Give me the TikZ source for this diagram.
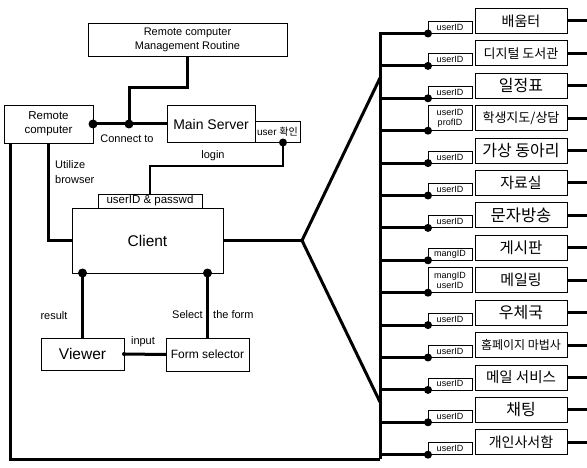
\documentclass[tikz,border=0pt]{standalone}
\usepackage{fontspec}
\setmainfont{Liberation Sans}
\newfontfamily\kr{Noto Sans CJK KR}
\usetikzlibrary{positioning,calc}
\newcommand{\krsize}[1]{\kr\fontsize{#1}{#1}\selectfont}
\newcommand{\ensize}[2]{\fontsize{#1}{#2}\selectfont}

\begin{document}
\begin{tikzpicture}[x=1pt, y=-1pt,
    box/.style={draw, line width=0.8pt, inner sep=0pt, outer sep=0pt, align=center},
    svc/.style={box, minimum width=92pt, minimum height=25pt},
    tag/.style={box, minimum width=44pt, minimum height=12pt, font=\ensize{9}{9.5}},
    wire/.style={line width=3pt},
    lbl/.style={inner sep=0pt, align=left, font=\ensize{11}{15}}
]
\useasboundingbox (0,0) rectangle (587,468);

% left side
\node[box, minimum width=199pt, minimum height=33pt, font=\ensize{11}{14}] (mgmt) at (187.5,39.5) {Remote computer\\Management Routine};
\node[box, minimum width=89pt, minimum height=38pt, font=\ensize{11.5}{14}] (remote) at (48.5,124) {Remote\\computer};
\node[box, minimum width=88pt, minimum height=37pt, font=\ensize{14}{16}] (server) at (211,124) {Main Server};
\node[box, anchor=south west, minimum width=45pt, minimum height=21pt, font=\ensize{10}{12}] (ucheck) at (server.south east) {user {\kr 확인}};
\node[box, minimum width=151pt, minimum height=65pt, font=\ensize{15.5}{18}] (client) at (147.5,240.5) {Client};
\node[box, anchor=south, minimum width=104pt, minimum height=14pt, font=\ensize{11.5}{12}] (uidpw) at ([xshift=2.5pt]client.north) {userID \& passwd};
\node[box, minimum width=83pt, minimum height=32pt, font=\ensize{15.5}{18}] (viewer) at (82.5,354) {Viewer};
\node[box, minimum width=83pt, minimum height=33pt, font=\ensize{12}{14}] (formsel) at (207.5,354.5) {Form selector};

\node[lbl] (lconnect) at (127,139) {Connect to};
\node[lbl] (llogin) at (213,156) {login};
\node[lbl, anchor=west] (lutil) at (55,172) {Utilize\\browser};
\node[lbl] (lresult) at (54,316) {result};
\node[lbl, anchor=east] (lselect) at (203,315) {Select};
\node[lbl, anchor=west] (lform) at (213,315) {the form};
\node[lbl] (linput) at (143,342) {input};

% services
\node[svc, font=\krsize{14}] (s1) at (521,21) {배움터};
\node[svc, font=\krsize{13}, below=7.4pt of s1] (s2) {디지털 도서관};
\node[svc, font=\krsize{16}, below=7.4pt of s2] (s3) {일정표};
\node[svc, font=\krsize{13}, below=7.4pt of s3] (s4) {학생지도/상담};
\node[svc, font=\krsize{16}, below=7.4pt of s4] (s5) {가상 동아리};
\node[svc, font=\krsize{15}, below=7.4pt of s5] (s6) {자료실};
\node[svc, font=\krsize{16.5}, below=7.4pt of s6] (s7) {문자방송};
\node[svc, font=\krsize{15.5}, below=7.4pt of s7] (s8) {게시판};
\node[svc, font=\krsize{15}, below=7.4pt of s8] (s9) {메일링};
\node[svc, font=\krsize{16}, below=7.4pt of s9] (s10) {우체국};
\node[svc, font=\krsize{12}, below=7.4pt of s10] (s11) {홈페이지 마법사};
\node[svc, font=\krsize{14.5}, below=7.4pt of s11] (s12) {메일 서비스};
\node[svc, font=\krsize{16}, below=7.4pt of s12] (s13) {채팅};
\node[svc, font=\krsize{14}, below=7.4pt of s13] (s14) {개인사서함};

% id tags
\node[tag, anchor=south east] (t1) at ([xshift=-3pt]s1.south west) {userID};
\node[tag, anchor=south east] (t2) at ([xshift=-3pt]s2.south west) {userID};
\node[tag, anchor=south east] (t3) at ([xshift=-3pt]s3.south west) {userID};
\node[tag, anchor=south east, minimum height=25pt] (t4) at ([xshift=-3pt]s4.south west) {userID\\profID};
\node[tag, anchor=south east] (t5) at ([xshift=-3pt]s5.south west) {userID};
\node[tag, anchor=south east] (t6) at ([xshift=-3pt]s6.south west) {userID};
\node[tag, anchor=south east] (t7) at ([xshift=-3pt]s7.south west) {userID};
\node[tag, anchor=south east] (t8) at ([xshift=-3pt]s8.south west) {mangID};
\node[tag, anchor=south east, minimum height=25pt] (t9) at ([xshift=-3pt]s9.south west) {mangID\\userID};
\node[tag, anchor=south east] (t10) at ([xshift=-3pt]s10.south west) {userID};
\node[tag, anchor=south east] (t11) at ([xshift=-3pt]s11.south west) {userID};
\node[tag, anchor=south east] (t12) at ([xshift=-3pt]s12.south west) {userID};
\node[tag, anchor=south east] (t13) at ([xshift=-3pt]s13.south west) {userID};
\node[tag, anchor=south east] (t14) at ([xshift=-3pt]s14.south west) {userID};

\coordinate (jn) at (129,124);
\coordinate (fork) at (302,240.5);
\coordinate (up) at (380,78);
\coordinate (dn) at (380,402);
\coordinate (bus) at (380,459);
\coordinate (rim) at (587,0);

% wires on the left
\draw[wire] (remote.east) -- (server.west);
\draw[wire] (mgmt.south) -- ++(0,32) -| (jn);
\fill (remote.east) circle (4.5pt);
\fill (jn) circle (4.5pt);
\draw[line width=2pt] ([xshift=5.5pt]ucheck.south) -- ++(0,24) -| (uidpw.north);
\fill ([xshift=5.5pt]ucheck.south) circle (4pt);
\draw[wire] (remote.south) |- (client.west);
\draw[wire] (viewer.north) -- (viewer.north |- client.south);
\draw[wire] (formsel.north) -- (formsel.north |- client.south);
\fill (viewer.north |- client.south) circle (4.5pt);
\fill (formsel.north |- client.south) circle (4.5pt);
\draw[wire] (viewer.east) -- (formsel.west);
\fill (viewer.east) circle (2pt);
\draw[wire] ([xshift=6pt]remote.south west) |- (bus);

% client to the bus
\draw[wire] (client.east) -- (fork);
\draw[wire] (up) -- (fork) -- (dn);
\draw[wire] (bus) -- (bus |- t1.south west) -- (t1.south west);
\draw[wire] (bus |- t2.south west) -- (t2.south west);
\draw[wire] (bus |- t3.south west) -- (t3.south west);
\draw[wire] (bus |- t4.south west) -- (t4.south west);
\draw[wire] (bus |- t5.south west) -- (t5.south west);
\draw[wire] (bus |- t6.south west) -- (t6.south west);
\draw[wire] (bus |- t7.south west) -- (t7.south west);
\draw[wire] (bus |- t8.south west) -- (t8.south west);
\draw[wire] (bus |- t9.south west) -- (t9.south west);
\draw[wire] (bus |- t10.south west) -- (t10.south west);
\draw[wire] (bus |- t11.south west) -- (t11.south west);
\draw[wire] (bus |- t12.south west) -- (t12.south west);
\draw[wire] (bus |- t13.south west) -- (t13.south west);
\draw[wire] (bus |- t14.south west) -- (t14.south west);
\fill (t1.south west) circle (4pt) (t2.south west) circle (4pt) (t3.south west) circle (4pt)
      (t4.south west) circle (4pt) (t5.south west) circle (4pt) (t6.south west) circle (4pt)
      (t7.south west) circle (4pt) (t8.south west) circle (4pt) (t9.south west) circle (4pt)
      (t10.south west) circle (4pt) (t11.south west) circle (4pt) (t12.south west) circle (4pt)
      (t13.south west) circle (4pt) (t14.south west) circle (4pt);

% services to the right edge
\draw[wire] (s1.east) -- (s1.east -| rim);
\draw[wire] (s2.east) -- (s2.east -| rim);
\draw[wire] (s3.east) -- (s3.east -| rim);
\draw[wire] (s4.east) -- (s4.east -| rim);
\draw[wire] (s5.east) -- (s5.east -| rim);
\draw[wire] (s6.east) -- (s6.east -| rim);
\draw[wire] (s7.east) -- (s7.east -| rim);
\draw[wire] (s8.east) -- (s8.east -| rim);
\draw[wire] (s9.east) -- (s9.east -| rim);
\draw[wire] (s10.east) -- (s10.east -| rim);
\draw[wire] (s11.east) -- (s11.east -| rim);
\draw[wire] (s12.east) -- (s12.east -| rim);
\draw[wire] (s13.east) -- (s13.east -| rim);
\draw[wire] (s14.east) -- (s14.east -| rim);
\end{tikzpicture}
\end{document}
